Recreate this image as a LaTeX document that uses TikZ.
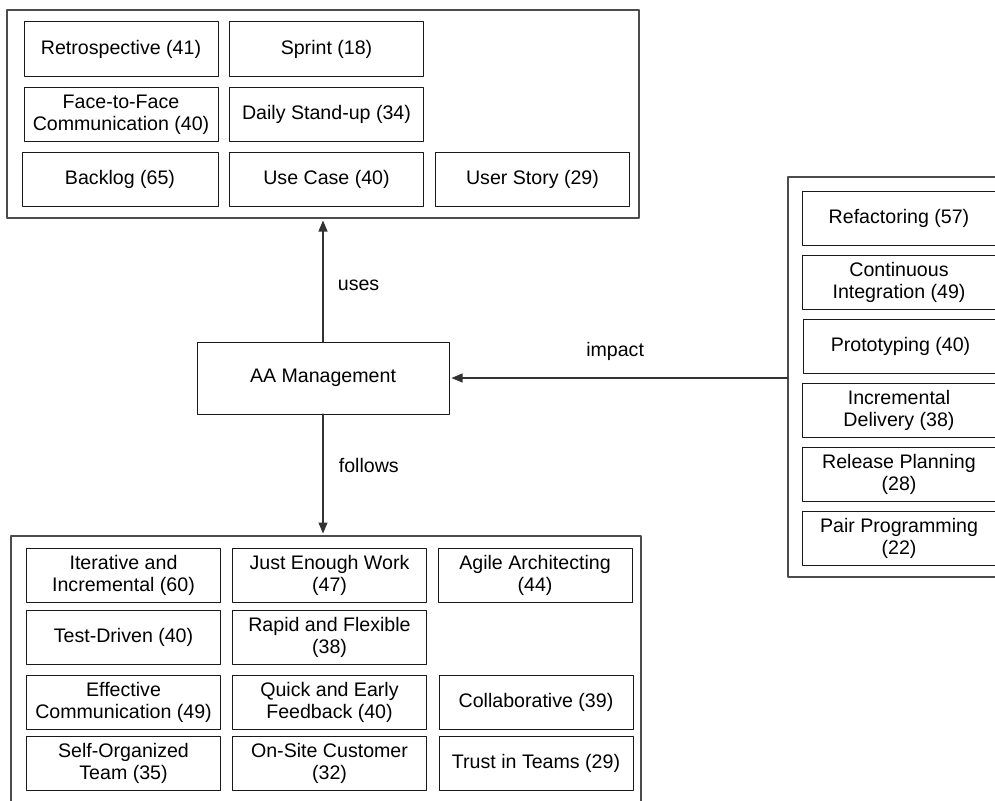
\documentclass[tikz,border=0pt]{standalone}
\usepackage{fontspec}
\setmainfont{Liberation Sans}
\usetikzlibrary{arrows.meta}

\begin{document}
\begin{tikzpicture}[x=1pt, y=-1pt, line cap=round, line join=round,
    every node/.style={font=\fontsize{19.6}{22}\selectfont},
    item/.style={draw=black!90, line width=1pt, minimum width=194, minimum height=54,
                 inner sep=0pt, outer sep=0pt, align=center},
    group/.style={draw=black!70, line width=1.5pt, inner sep=0pt, outer sep=0pt},
    link/.style={-{Triangle[length=11pt,width=9pt]}, line width=1.1pt, draw=black!80,
                 shorten >=2.5pt}]

            \useasboundingbox (0,0) rectangle (995,800);
            \clip (0,0) rectangle (995,800);

            % groups
            \node[group, minimum width=632, minimum height=208] (practices) at (323,114) {};
            \node[group, minimum width=630, minimum height=274] (values) at (326,673) {};
            \node[group, minimum width=220, minimum height=400] (techniques) at (898,377) {};

            % what is used
            \node[item] (retro)     at (121,49)    {Retrospective (41)};
            \node[item] (sprint)    at (326.5,49)  {Sprint (18)};
            \node[item] (facetoface) at (121,114.5) {Face-to-Face\\Communication (40)};
            \node[item] (standup)   at (326.5,114.5) {Daily Stand-up (34)};
            \node[item, minimum width=196] (backlog) at (120,179.5) {Backlog (65)};
            \node[item] (usecase)   at (326.5,179.5) {Use Case (40)};
            \node[item] (userstory) at (532.5,179.5) {User Story (29)};

            % what has impact
            \node[item] (refactor)  at (899,218) {Refactoring (57)};
            \node[item] (contint)   at (899,282) {Continuous\\Integration (49)};
            \node[item] (proto)     at (900.5,346) {Prototyping (40)};
            \node[item] (incdel)    at (899,410) {Incremental\\Delivery (38)};
            \node[item] (release)   at (899,474) {Release Planning\\(28)};
            \node[item] (pairprog)  at (899,538) {Pair Programming\\(22)};

            % what is followed
            \node[item] (iterative) at (123.5,575)   {Iterative and\\Incremental (60)};
            \node[item] (justenough) at (329.5,575)  {Just Enough Work\\(47)};
            \node[item] (agilearch) at (535,575)     {Agile Architecting\\(44)};
            \node[item] (testdriven) at (123.5,637.5) {Test-Driven (40)};
            \node[item] (rapid)     at (329.5,637.5) {Rapid and Flexible\\(38)};
            \node[item] (effcomm)   at (123.5,702.5) {Effective\\Communication (49)};
            \node[item] (feedback)  at (329.5,702.5) {Quick and Early\\Feedback (40)};
            \node[item] (collab)    at (536,702.5)   {Collaborative (39)};
            \node[item] (selforg)   at (123.5,763.5) {Self-Organized\\Team (35)};
            \node[item] (onsite)    at (329.5,763.5) {On-Site Customer\\(32)};
            \node[item] (trust)     at (536,763.5)   {Trust in Teams (29)};

            \node[item, minimum width=252, minimum height=72] (mgmt) at (323,378) {AA Management};

            \draw[link] (mgmt.north) -- node[pos=.46, anchor=west, xshift=11pt] {uses} (mgmt.north |- practices.south);
            \draw[link] (mgmt.south) -- node[pos=.42, anchor=west, xshift=12pt] {follows} (mgmt.south |- values.north);
            \draw[link] (techniques.west |- mgmt.east) -- node[pos=.51, yshift=27pt] {impact} (mgmt.east);
\end{tikzpicture}
\end{document}
